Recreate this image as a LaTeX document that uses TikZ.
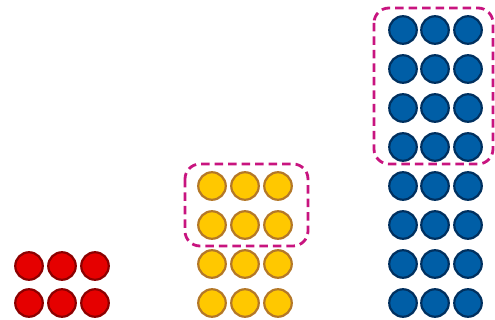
\documentclass[tikz,border=0pt]{standalone}
\begin{document}
\begin{tikzpicture}[x=1pt,y=-1pt,
  dot/.style={circle,minimum size=27.5pt,inner sep=0pt,line width=2.2pt},
  reddot/.style={dot,fill=red!90!black,draw=red!55!black},
  yeldot/.style={dot,fill={rgb,255:red,255;green,200;blue,0},draw={rgb,255:red,180;green,120;blue,40}},
  bludot/.style={dot,fill={rgb,255:red,0;green,94;blue,166},draw={rgb,255:red,0;green,48;blue,95}},
  grpbox/.style={draw={rgb,255:red,200;green,20;blue,127},line width=2.8pt,dash pattern=on 8.5pt off 5pt,rounded corners=15pt}]
\useasboundingbox (0,0) rectangle (495,320);
\foreach \c/\x in {1/29,2/62,3/95}{
  \foreach \r/\y in {1/266,2/303}{
    \node[reddot] (r-\r-\c) at (\x,\y) {};
  }
}
\foreach \c/\x in {1/212,2/245,3/278}{
  \foreach \r/\y in {1/186,2/225,3/264,4/303}{
    \node[yeldot] (y-\r-\c) at (\x,\y) {};
  }
}
\foreach \c/\x in {1/403,2/435,3/468}{
  \foreach \r/\y in {1/30,2/69,3/108,4/147,5/186,6/225,7/264,8/303}{
    \node[bludot] (b-\r-\c) at (\x,\y) {};
  }
}
\draw[grpbox] (185,164) rectangle (308,246);
\draw[grpbox] (374,8) rectangle (493,164);
\end{tikzpicture}
\end{document}
